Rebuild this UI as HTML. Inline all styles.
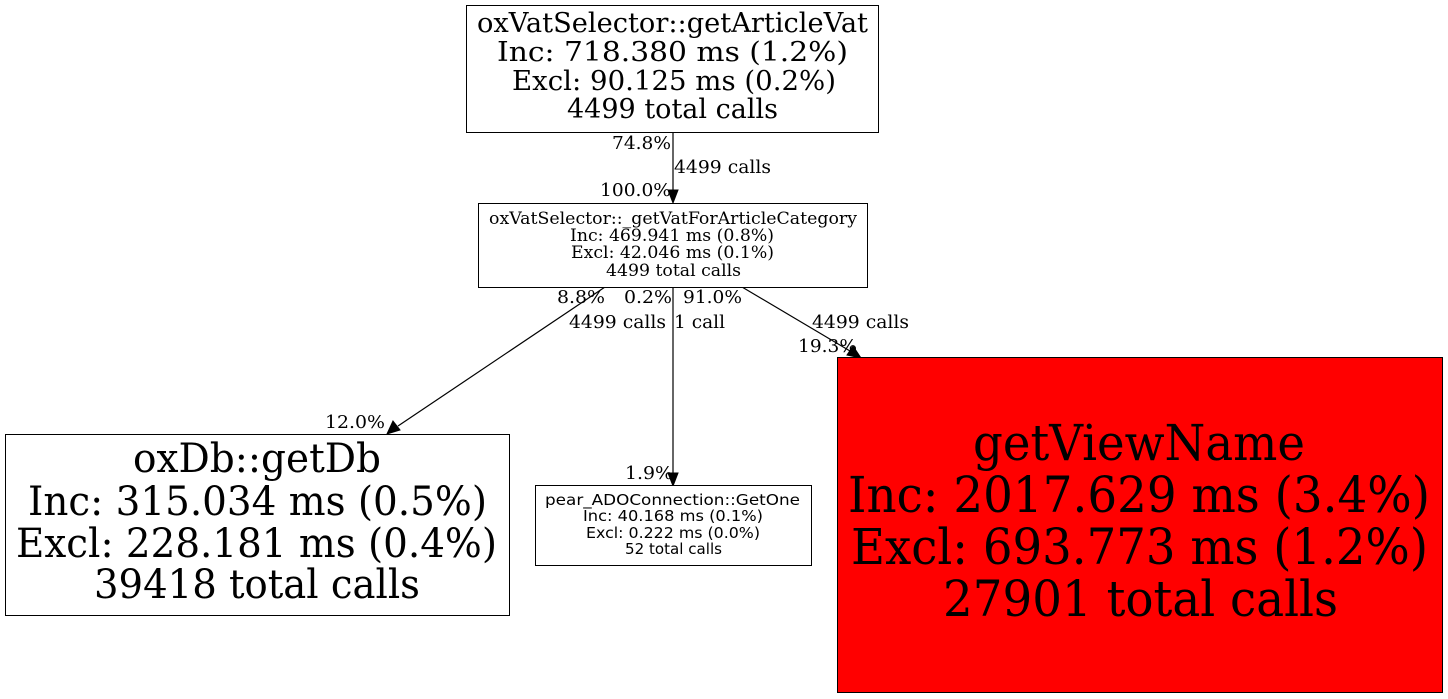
<!DOCTYPE html>
<html><head><meta charset="utf-8"><style>html,body{margin:0;padding:0;background:#fff}svg{display:block}</style></head>
<body>
<svg width="1448" height="699" viewBox="0 0 1448 699" xmlns="http://www.w3.org/2000/svg" font-family="DejaVu Serif, Liberation Serif, serif">
<rect width="1448" height="699" fill="#fff"/>
<g stroke="#000" stroke-width="1.2" fill="none">
<line x1="673" y1="132" x2="673" y2="191"/>
<line x1="605" y1="287" x2="398" y2="426"/>
<line x1="673" y1="287" x2="673" y2="474"/>
<line x1="742" y1="287" x2="850" y2="351"/>
</g>
<g fill="#000" stroke="#000">
<polygon points="668,190 678,190 673,203"/>
<polygon points="393,421 400,430 387,434"/>
<polygon points="668,473 678,473 673,486"/>
<polygon points="847,355 853,346 861,358"/>
</g>
<g font-size="17.5" fill="#000">
<text x="612" y="149" textLength="59" lengthAdjust="spacingAndGlyphs">74.8%</text>
<text x="674" y="173" textLength="97" lengthAdjust="spacingAndGlyphs">4499 calls</text>
<text x="600" y="196" textLength="71" lengthAdjust="spacingAndGlyphs">100.0%</text>
<text x="557" y="303" textLength="48" lengthAdjust="spacingAndGlyphs">8.8%</text>
<text x="624" y="303" textLength="48" lengthAdjust="spacingAndGlyphs">0.2%</text>
<text x="683" y="303" textLength="59" lengthAdjust="spacingAndGlyphs">91.0%</text>
<text x="569" y="328" textLength="97" lengthAdjust="spacingAndGlyphs">4499 calls</text>
<text x="674" y="328" textLength="51" lengthAdjust="spacingAndGlyphs">1 call</text>
<text x="812" y="328" textLength="97" lengthAdjust="spacingAndGlyphs">4499 calls</text>
<text x="798" y="352" textLength="59" lengthAdjust="spacingAndGlyphs">19.3%</text>
<text x="325" y="428" textLength="60" lengthAdjust="spacingAndGlyphs">12.0%</text>
<text x="625" y="479" textLength="48" lengthAdjust="spacingAndGlyphs">1.9%</text>
</g>
<rect x="466.5" y="5.5" width="412" height="127" fill="#fff" stroke="#000"/>
<g font-size="27.5">
<text x="477" y="32" textLength="391" lengthAdjust="spacingAndGlyphs">oxVatSelector::getArticleVat</text>
<text x="497" y="61" textLength="351" lengthAdjust="spacingAndGlyphs">Inc: 718.380 ms (1.2%)</text>
<text x="512" y="90" textLength="324" lengthAdjust="spacingAndGlyphs">Excl: 90.125 ms (0.2%)</text>
<text x="567" y="118" textLength="211" lengthAdjust="spacingAndGlyphs">4499 total calls</text>
</g>
<rect x="478.5" y="203.5" width="389" height="84" fill="#fff" stroke="#000"/>
<g font-size="16.5">
<text x="489" y="224" textLength="368" lengthAdjust="spacingAndGlyphs">oxVatSelector::_getVatForArticleCategory</text>
<text x="570" y="241" textLength="204" lengthAdjust="spacingAndGlyphs">Inc: 469.941 ms (0.8%)</text>
<text x="571" y="258" textLength="203" lengthAdjust="spacingAndGlyphs">Excl: 42.046 ms (0.1%)</text>
<text x="606" y="276" textLength="135" lengthAdjust="spacingAndGlyphs">4499 total calls</text>
</g>
<rect x="5.5" y="434.5" width="504" height="181" fill="#fff" stroke="#000"/>
<g font-size="40">
<text x="133" y="472" textLength="248" lengthAdjust="spacingAndGlyphs">oxDb::getDb</text>
<text x="28" y="515" textLength="459" lengthAdjust="spacingAndGlyphs">Inc: 315.034 ms (0.5%)</text>
<text x="16" y="557" textLength="481" lengthAdjust="spacingAndGlyphs">Excl: 228.181 ms (0.4%)</text>
<text x="94" y="598" textLength="326" lengthAdjust="spacingAndGlyphs">39418 total calls</text>
</g>
<rect x="535.5" y="485.5" width="276" height="80" fill="#fff" stroke="#000"/>
<g font-size="15.5" font-family="DejaVu Sans, Liberation Sans, sans-serif">
<text x="545" y="505" textLength="255" lengthAdjust="spacingAndGlyphs">pear_ADOConnection::GetOne</text>
<text x="583" y="521" textLength="180" lengthAdjust="spacingAndGlyphs">Inc: 40.168 ms (0.1%)</text>
<text x="586" y="538" textLength="174" lengthAdjust="spacingAndGlyphs">Excl: 0.222 ms (0.0%)</text>
<text x="625" y="554" textLength="97" lengthAdjust="spacingAndGlyphs">52 total calls</text>
</g>
<rect x="837.5" y="357.5" width="605" height="335" fill="#ff0000" stroke="#000"/>
<g font-size="50">
<text x="973" y="460" textLength="332" lengthAdjust="spacingAndGlyphs">getViewName</text>
<text x="848" y="512" textLength="582" lengthAdjust="spacingAndGlyphs">Inc: 2017.629 ms (3.4%)</text>
<text x="851" y="564" textLength="577" lengthAdjust="spacingAndGlyphs">Excl: 693.773 ms (1.2%)</text>
<text x="943" y="616" textLength="395" lengthAdjust="spacingAndGlyphs">27901 total calls</text>
</g>
</svg>
</body></html>
